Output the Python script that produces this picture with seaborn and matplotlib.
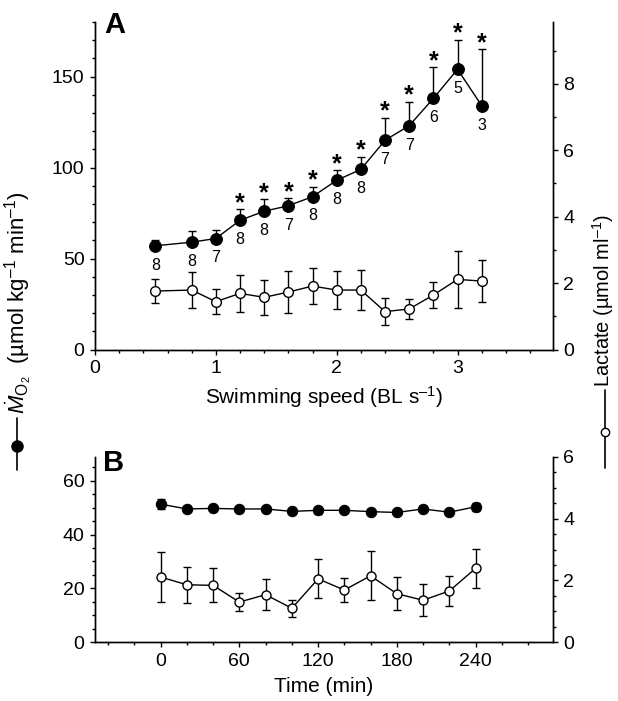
import numpy as np
import pandas as pd
import seaborn as sns
import matplotlib
matplotlib.use("Agg")
import matplotlib.pyplot as plt
from matplotlib.lines import Line2D
from matplotlib.ticker import MultipleLocator, FixedLocator

# ---------------- data ----------------
speed = [0.5, 0.8, 1.0, 1.2, 1.4, 1.6, 1.8, 2.0, 2.2, 2.4, 2.6, 2.8, 3.0, 3.2]
mo2_a = [57, 59, 61, 71, 76, 79, 84, 93, 99, 115, 123, 138, 154, 134]
mo2_a_err = [3, 6, 4.5, 6, 6.5, 4, 5.5, 5.5, 7, 12.5, 13, 17, 16, 31]
lac_a = [1.76, 1.79, 1.44, 1.69, 1.57, 1.73, 1.91, 1.79, 1.79, 1.14, 1.22, 1.64, 2.11, 2.06]
lac_a_err = [0.35, 0.53, 0.38, 0.55, 0.53, 0.62, 0.55, 0.56, 0.60, 0.41, 0.29, 0.38, 0.86, 0.62]
n_fish = [8, 8, 7, 8, 8, 7, 8, 8, 8, 7, 7, 6, 5, 3]
signif = [False, False, False, True, True, True, True, True, True, True, True, True, True, True]

time_min = [0, 20, 40, 60, 80, 100, 120, 140, 160, 180, 200, 220, 240]
mo2_b = [51.3, 49.5, 49.7, 49.5, 49.5, 48.6, 49.0, 49.0, 48.5, 48.2, 49.5, 48.3, 50.3]
mo2_b_err = [1.8, 1.0, 1.0, 1.0, 1.0, 1.0, 1.2, 1.0, 1.0, 1.0, 1.0, 1.0, 1.5]
lac_b = [2.11, 1.86, 1.84, 1.30, 1.54, 1.10, 2.05, 1.69, 2.15, 1.57, 1.36, 1.66, 2.39]
lac_b_err = [0.82, 0.59, 0.55, 0.28, 0.50, 0.27, 0.63, 0.39, 0.79, 0.54, 0.52, 0.49, 0.63]

x_ticks_a = [0, 1, 2, 3]
x_ticks_b = [0, 60, 120, 180, 240]

df_a = pd.DataFrame({"speed": speed, "mo2": mo2_a, "mo2_err": mo2_a_err,
                     "lac": lac_a, "lac_err": lac_a_err, "n": n_fish, "sig": signif})
df_b = pd.DataFrame({"time": time_min, "mo2": mo2_b, "mo2_err": mo2_b_err,
                     "lac": lac_b, "lac_err": lac_b_err})

# ---------------- style ----------------
sns.set_style("ticks")
plt.rcParams["font.family"] = ["Liberation Sans", "DejaVu Sans"]
plt.rcParams["mathtext.fontset"] = "custom"
plt.rcParams["mathtext.rm"] = "Liberation Sans"
plt.rcParams["mathtext.it"] = "Liberation Sans:italic"
plt.rcParams["mathtext.bf"] = "Liberation Sans:bold"
plt.rcParams["axes.linewidth"] = 1.0
for k in ["xtick.color", "ytick.color", "axes.edgecolor", "text.color",
          "axes.labelcolor", "xtick.labelcolor", "ytick.labelcolor"]:
    plt.rcParams[k] = "black"

W, H = 618, 701
fig = plt.figure(figsize=(W / 100, H / 100), dpi=100)

def fx(px):
    return px / W

def fy(py):
    return 1 - py / H

axA = fig.add_axes([fx(95), fy(349.5), fx(553) - fx(95), fy(22) - fy(349.5)])
axB = fig.add_axes([fx(95), fy(642.3), fx(553) - fx(95), fy(456.7) - fy(642.3)])
axA2 = axA.twinx()
axB2 = axB.twinx()

TICK_FS = 14
LAB_FS = 15
cap = 2.6
lw = 1.0
EN = "\u2013"
SUP = "$^{" + EN + "1}$"

def style_axes(ax, ax2):
    ax.spines["top"].set_visible(False)
    ax2.spines["top"].set_visible(False)
    for a in (ax, ax2):
        a.tick_params(which="major", direction="out", length=3.5, width=1, labelsize=TICK_FS, pad=4)
        a.tick_params(which="minor", direction="out", length=2, width=1)
    ax.patch.set_visible(False)
    ax2.patch.set_visible(False)

# ---------------- Panel A ----------------
axA2.errorbar(df_a["speed"], df_a["lac"], yerr=df_a["lac_err"], fmt="none",
              ecolor="black", elinewidth=lw, capsize=cap, capthick=lw, zorder=2)
sns.lineplot(data=df_a, x="speed", y="lac", ax=axA2, color="black", lw=lw,
             marker="o", markersize=7, markerfacecolor="white", markeredgecolor="black",
             markeredgewidth=1.0, zorder=3, legend=False)
axA.errorbar(df_a["speed"], df_a["mo2"], yerr=[np.zeros(len(df_a)), df_a["mo2_err"]], fmt="none",
             ecolor="black", elinewidth=lw, capsize=cap, capthick=lw, zorder=2)
sns.lineplot(data=df_a, x="speed", y="mo2", ax=axA, color="black", lw=lw,
             marker="o", markersize=8.5, markerfacecolor="black", markeredgecolor="black",
             zorder=3, legend=False)
for _, r in df_a.iterrows():
    axA.annotate(str(int(r["n"])), (r["speed"], r["mo2"]), xytext=(0, -8.5), textcoords="offset points",
                 ha="center", va="top", fontsize=11.5)
    if r["sig"]:
        axA.annotate("*", (r["speed"], r["mo2"] + r["mo2_err"]), xytext=(0, -4), textcoords="offset points",
                     ha="center", va="bottom", fontsize=18, fontweight="bold")

axA.set_xlim(0, 3.79)
axA.set_ylim(0, 180)
axA2.set_ylim(0, 9.86)
axA.set_xticks(x_ticks_a)
axA.xaxis.set_minor_locator(MultipleLocator(0.2))
axA.set_yticks([0, 50, 100, 150])
axA.yaxis.set_minor_locator(MultipleLocator(10))
axA2.set_yticks([0, 2, 4, 6, 8])
axA2.yaxis.set_minor_locator(MultipleLocator(1))
style_axes(axA, axA2)
axA.set_xlabel("Swimming speed (BL s" + SUP + ")", fontsize=LAB_FS, labelpad=5)
axA.set_ylabel("")
axA2.set_ylabel("")
fig.text(fx(104), fy(11), "A", fontsize=21, fontweight="bold", va="top", ha="left")

# ---------------- Panel B ----------------
axB2.errorbar(df_b["time"], df_b["lac"], yerr=df_b["lac_err"], fmt="none",
              ecolor="black", elinewidth=lw, capsize=cap, capthick=lw, zorder=2)
sns.lineplot(data=df_b, x="time", y="lac", ax=axB2, color="black", lw=lw,
             marker="o", markersize=6.5, markerfacecolor="white", markeredgecolor="black",
             markeredgewidth=1.0, zorder=3, legend=False)
axB.errorbar(df_b["time"], df_b["mo2"], yerr=df_b["mo2_err"], fmt="none",
             ecolor="black", elinewidth=lw, capsize=cap, capthick=lw, zorder=2)
sns.lineplot(data=df_b, x="time", y="mo2", ax=axB, color="black", lw=lw,
             marker="o", markersize=7.5, markerfacecolor="black", markeredgecolor="black",
             zorder=3, legend=False)

axB.set_xlim(-50, 299)
axB.set_ylim(0, 68.9)
axB2.set_ylim(0, 6)
axB.set_xticks(x_ticks_b)
axB.xaxis.set_minor_locator(FixedLocator(np.arange(-40, 300, 20)))
axB.set_yticks([0, 20, 40, 60])
axB.yaxis.set_minor_locator(MultipleLocator(5))
axB2.set_yticks([0, 2, 4, 6])
axB2.yaxis.set_minor_locator(MultipleLocator(0.5))
style_axes(axB, axB2)
axB.set_xlabel("Time (min)", fontsize=LAB_FS, labelpad=5)
axB.set_ylabel("")
axB2.set_ylabel("")
fig.text(fx(103), fy(449), "B", fontsize=21, fontweight="bold", va="top", ha="left")

# ---------------- shared y labels with symbols ----------------
left_label = r"$\dot{\mathit{M}}_{\mathrm{O_2}}$  (" + "\u00b5mol kg" + SUP + " min" + SUP + ")"
fig.text(fx(25), fy(414), left_label, rotation=90, rotation_mode="anchor",
         ha="left", va="baseline", fontsize=16)
fig.add_artist(Line2D([fx(17), fx(17)], [fy(418), fy(470)], color="black", lw=1.2,
                      transform=fig.transFigure))
fig.add_artist(Line2D([fx(17)], [fy(446)], marker="o", markersize=8, color="black",
                      markerfacecolor="black", transform=fig.transFigure))

fig.text(fx(610), fy(387), "Lactate (\u00b5mol ml" + SUP + ")", rotation=90, rotation_mode="anchor",
         ha="left", va="baseline", fontsize=14.5)
fig.add_artist(Line2D([fx(605), fx(605)], [fy(390), fy(468)], color="black", lw=1.2,
                      transform=fig.transFigure))
fig.add_artist(Line2D([fx(605)], [fy(432)], marker="o", markersize=6, color="black",
                      markerfacecolor="white", markeredgewidth=1.0, transform=fig.transFigure))

fig.savefig("out.png", dpi=100)
